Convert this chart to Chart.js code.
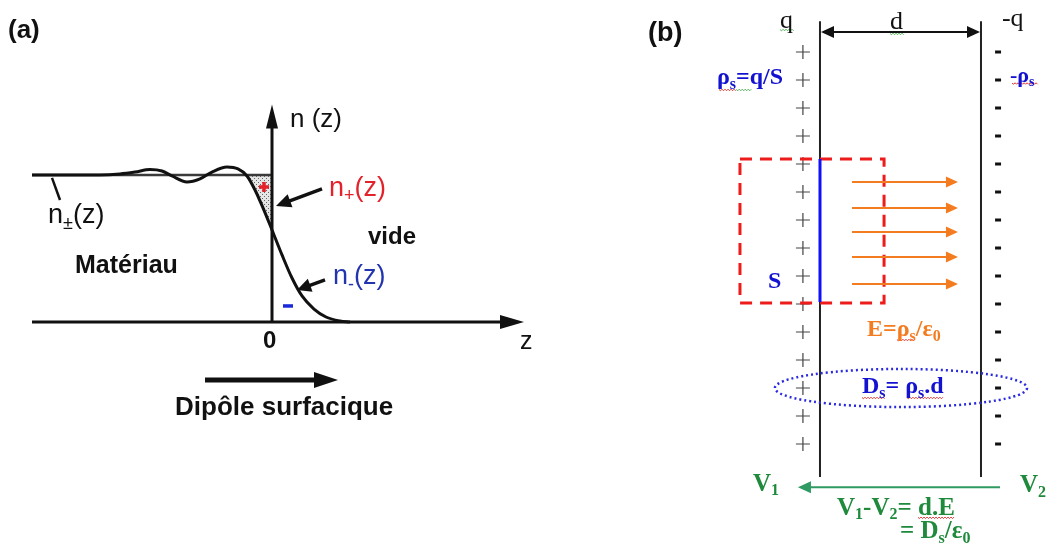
<!DOCTYPE html>
<html><head><meta charset="utf-8">
<script src="https://cdn.jsdelivr.net/npm/chart.js@4/dist/chart.umd.min.js"></script>
<style>html,body{margin:0;padding:0;background:#fff;}#wrap{width:1047px;height:544px;}</style>
</head><body><div id="wrap"><canvas id="c" width="1047" height="544"></canvas></div>
<script>
// ---------- Panel (a): density profile n(z) across the surface ----------
const curveZ = [-2.40,-1.72,-1.52,-1.37,-1.22,-1.10,-1.00,-0.85,-0.72,-0.60,-0.45,-0.34,-0.25,-0.17,-0.09,0.00,0.10,0.20,0.30,0.42,0.54,0.68,0.78];
const curveN = [1.000,1.000,1.007,1.020,1.037,1.027,0.993,0.952,0.973,1.020,1.054,1.041,0.993,0.898,0.776,0.626,0.456,0.299,0.177,0.088,0.034,0.007,0.000];
const bulkZ = [-2.40, 0.00];
const bulkN = 1;
const zAxisRange = [-2.40, 2.52];
const nAxisRange = [0, 1.48];
const excessZ = [-0.25, 0.00];          // shaded n+ excess zone
const dipoleZ = [-0.67, 0.66];
const dipoleN = -0.395;
// ---------- Panel (b): parallel plate model ----------
const plateU = [0, 1];                  // plate positions (in units of d)
const plateV = [-1.10, 15.18];
const chargeV = [0,1,2,3,4,5,6,7,8,9,10,11,12,13,14];   // index of each surface charge
const plusU = -0.106, minusU = 1.106;
const gaussU = [-0.497, 0.398], gaussV = [3.82, 8.96];
const fieldV = [4.64, 5.57, 6.43, 7.32, 8.29];
const fieldU = [0.199, 0.857];
const ellipseC = [0.503, 12.0], ellipseR = [0.783, 0.68];
const potentialU = [1.118, -0.137], potentialV = 15.54;
const dArrowV = -0.714;
// spell-check underlines seen in the source image: [u0, u1, v, colour]
const squiggles = [
  [-0.248, -0.155, -0.80, '#4caf50'],
  [0.435, 0.528, -0.66, '#4caf50'],
  [-0.627, -0.52, 1.34, '#e03030'],
  [-0.52, -0.42, 1.34, '#4caf50'],
  [1.193, 1.354, 1.11, '#e03030'],
  [0.478, 0.590, 10.27, '#e03030'],
  [0.261, 0.404, 12.34, '#e03030'],
  [0.540, 0.764, 12.34, '#e03030'],
  [0.609, 0.839, 16.62, '#e03030']
];

const SANS = '"Liberation Sans", Arial, sans-serif';
const SERIF = '"Liberation Serif", "Times New Roman", serif';
const RED = '#e3222b', BLUE_A = '#2234b0', BLUE = '#1212d0', ORANGE = '#f47c20', GREEN = '#1f8a3c', GREEN_ARROW = '#2f9a62';

const labelsA = [
  {p:[['(a)']], z:-2.64, n:1.98, font:'bold 26px '+SANS, c:'#111'},
  {p:[['n (z)']], z:0.18, n:1.374, font:'26px '+SANS, c:'#111'},
  {p:[['n'],['+','s'],['(z)']], z:0.57, n:0.905, font:'27px '+SANS, c:RED},
  {p:[['vide']], z:0.96, n:0.578, font:'bold 24px '+SANS, c:'#111'},
  {p:[['Matériau']], z:-1.97, n:0.381, font:'bold 25px '+SANS, c:'#111'},
  {p:[['n'],['-','s'],['(z)']], z:0.61, n:0.306, font:'27px '+SANS, c:BLUE_A},
  {p:[['n'],['±','s'],['(z)']], z:-2.24, n:0.721, font:'27px '+SANS, c:'#111'},
  {p:[['0']], z:-0.09, n:-0.129, font:'bold 24px '+SANS, c:'#111'},
  {p:[['z']], z:2.48, n:-0.136, font:'25px '+SANS, c:'#111'},
  {p:[['Dipôle surfacique']], z:-0.97, n:-0.585, font:'bold 26px '+SANS, c:'#111'}
];
const labelsB = [
  {p:[['(b)']], u:-1.068, v:-0.643, font:'bold 27px '+SANS, c:'#111'},
  {p:[['q']], u:-0.248, v:-1.10, font:'26px '+SERIF, c:'#111'},
  {p:[['d']], u:0.435, v:-1.07, font:'26px '+SERIF, c:'#111'},
  {p:[['-q']], u:1.130, v:-1.18, font:'26px '+SERIF, c:'#111'},
  {p:[['ρ'],['s','s'],['=q/S']], u:-0.640, v:0.93, font:'bold 24px '+SERIF, c:BLUE},
  {p:[['-'],['ρ'],['s','s']], u:1.180, v:0.857, font:'bold 22px '+SERIF, c:BLUE},
  {p:[['S']], u:-0.323, v:8.214, font:'bold 24px '+SERIF, c:BLUE},
  {p:[['E=ρ'],['s','s'],['/ε'],['0','s']], u:0.292, v:9.93, font:'bold 24px '+SERIF, c:ORANGE},
  {p:[['D'],['s','s'],['= ρ'],['s','s'],['.d']], u:0.261, v:11.96, font:'bold 24px '+SERIF, c:BLUE},
  {p:[['V'],['1','s']], u:-0.416, v:15.43, font:'bold 25px '+SERIF, c:GREEN},
  {p:[['V'],['2','s']], u:1.242, v:15.5, font:'bold 25px '+SERIF, c:GREEN},
  {p:[['V'],['1','s'],['-V'],['2','s'],['= d.E']], u:0.106, v:16.29, font:'bold 25px '+SERIF, c:GREEN},
  {p:[['= D'],['s','s'],['/ε'],['0','s']], u:0.497, v:17.14, font:'bold 25px '+SERIF, c:GREEN}
];

function rich(ctx, parts, x, y, font, color){
  const m = font.match(/(\d+)px/); const size = +m[1];
  const subFont = font.replace(/\d+px/, Math.round(size*0.65)+'px');
  ctx.save(); ctx.fillStyle = color; ctx.textBaseline = 'middle'; ctx.textAlign = 'left';
  let cx = x;
  for (const [t, mode] of parts){
    if (mode === 's'){ ctx.font = subFont; ctx.fillText(t, cx, y + size*0.28); }
    else { ctx.font = font; ctx.fillText(t, cx, y); }
    cx += ctx.measureText(t).width;
  }
  ctx.restore();
}
function arrow(ctx, x1, y1, x2, y2, o){
  const dx = x2-x1, dy = y2-y1, L = Math.hypot(dx,dy), ux = dx/L, uy = dy/L;
  const bx = x2-ux*o.hl, by = y2-uy*o.hl;
  ctx.save(); ctx.strokeStyle = o.c; ctx.fillStyle = o.c; ctx.lineWidth = o.lw; ctx.setLineDash([]);
  let sx = x1, sy = y1;
  if (o.both){ sx = x1+ux*o.hl; sy = y1+uy*o.hl; }
  ctx.beginPath(); ctx.moveTo(sx, sy); ctx.lineTo(bx+ux*1, by+uy*1); ctx.stroke();
  const head = (tx,ty,vx,vy)=>{ const hx = tx-vx*o.hl, hy = ty-vy*o.hl;
    ctx.beginPath(); ctx.moveTo(tx,ty); ctx.lineTo(hx - vy*o.hw, hy + vx*o.hw); ctx.lineTo(hx + vy*o.hw, hy - vx*o.hw); ctx.closePath(); ctx.fill(); };
  head(x2,y2,ux,uy);
  if (o.both) head(x1,y1,-ux,-uy);
  ctx.restore();
}

const diagramPlugin = {
  id: 'diagram',
  beforeDatasetsDraw(chart){
    const ctx = chart.ctx, xa = chart.scales.xa, ya = chart.scales.ya;
    const pc = document.createElement('canvas'); pc.width = 4; pc.height = 4;
    const g = pc.getContext('2d'); g.fillStyle = '#e6e6e6'; g.fillRect(0,0,4,4);
    g.fillStyle = '#666'; g.fillRect(0,0,1,1); g.fillRect(2,2,1,1);
    ctx.save(); ctx.beginPath();
    ctx.moveTo(xa.getPixelForValue(excessZ[0]), ya.getPixelForValue(bulkN));
    ctx.lineTo(xa.getPixelForValue(excessZ[1]), ya.getPixelForValue(bulkN));
    for (let i = curveZ.length-1; i >= 0; i--){
      if (curveZ[i] <= excessZ[1] && curveZ[i] >= excessZ[0]) ctx.lineTo(xa.getPixelForValue(curveZ[i]), ya.getPixelForValue(curveN[i]));
    }
    ctx.closePath(); ctx.fillStyle = ctx.createPattern(pc, 'repeat'); ctx.fill(); ctx.restore();
  },
  afterDatasetsDraw(chart){
    const ctx = chart.ctx, s = chart.scales;
    const A = (z,n)=>[s.xa.getPixelForValue(z), s.ya.getPixelForValue(n)];
    const B = (u,v)=>[s.xb.getPixelForValue(u), s.yb.getPixelForValue(v)];
    let p, q;
    p = A(0,nAxisRange[0]); q = A(0,nAxisRange[1]);
    arrow(ctx, p[0], p[1], q[0], q[1], {lw:3, c:'#111', hl:24, hw:6});
    p = A(zAxisRange[0],0); q = A(zAxisRange[1],0);
    arrow(ctx, p[0], p[1], q[0], q[1], {lw:3, c:'#111', hl:24, hw:7});
    p = A(dipoleZ[0],dipoleN); q = A(dipoleZ[1],dipoleN);
    arrow(ctx, p[0], p[1], q[0], q[1], {lw:5, c:'#111', hl:24, hw:8});
    p = A(0.50,0.905); q = A(0.04,0.789);
    arrow(ctx, p[0], p[1], q[0], q[1], {lw:3.5, c:'#111', hl:15, hw:7});
    p = A(0.53,0.286); q = A(0.25,0.218);
    arrow(ctx, p[0], p[1], q[0], q[1], {lw:3.5, c:'#111', hl:14, hw:7});
    p = A(-2.20,0.980); q = A(-2.12,0.830);
    ctx.save(); ctx.strokeStyle = '#111'; ctx.lineWidth = 2.5; ctx.beginPath(); ctx.moveTo(p[0],p[1]); ctx.lineTo(q[0],q[1]); ctx.stroke(); ctx.restore();
    p = A(-0.08,0.918);
    ctx.save(); ctx.strokeStyle = RED; ctx.lineWidth = 3.5; ctx.beginPath();
    ctx.moveTo(p[0]-5,p[1]); ctx.lineTo(p[0]+5,p[1]); ctx.moveTo(p[0],p[1]-5); ctx.lineTo(p[0],p[1]+5); ctx.stroke();
    p = A(0.16,0.109); ctx.strokeStyle = '#1a2ad8'; ctx.lineWidth = 3.5; ctx.beginPath(); ctx.moveTo(p[0]-5,p[1]); ctx.lineTo(p[0]+5,p[1]); ctx.stroke(); ctx.restore();
    for (const L of labelsA){ p = A(L.z, L.n); rich(ctx, L.p, p[0], p[1], L.font, L.c); }
    // ---- panel (b) ----
    ctx.save(); ctx.strokeStyle = '#222'; ctx.lineWidth = 2;
    for (const u of plateU){ p = B(u, plateV[0]); q = B(u, plateV[1]); ctx.beginPath(); ctx.moveTo(p[0],p[1]); ctx.lineTo(q[0],q[1]); ctx.stroke(); }
    ctx.restore();
    p = B(plateU[0], dArrowV); q = B(plateU[1], dArrowV);
    arrow(ctx, p[0]+1, p[1], q[0]-1, q[1], {lw:2, c:'#111', hl:13, hw:6, both:true});
    p = B(gaussU[0], gaussV[0]); q = B(gaussU[1], gaussV[1]);
    ctx.save(); ctx.strokeStyle = '#ee1b1b'; ctx.lineWidth = 3; ctx.setLineDash([12,8]);
    ctx.strokeRect(p[0], p[1], q[0]-p[0], q[1]-p[1]); ctx.restore();
    p = B(plateU[0], gaussV[0]); q = B(plateU[0], gaussV[1]-0.03);
    ctx.save(); ctx.strokeStyle = '#1010ff'; ctx.lineWidth = 3; ctx.beginPath(); ctx.moveTo(p[0],p[1]); ctx.lineTo(q[0],q[1]); ctx.stroke(); ctx.restore();
    for (const v of fieldV){ p = B(fieldU[0], v); q = B(fieldU[1], v);
      arrow(ctx, p[0], p[1], q[0], q[1], {lw:2, c:ORANGE, hl:12, hw:5.5}); }
    p = B(ellipseC[0], ellipseC[1]);
    const rx = s.xb.getPixelForValue(ellipseC[0]+ellipseR[0]) - p[0];
    const ry = s.yb.getPixelForValue(ellipseC[1]+ellipseR[1]) - p[1];
    ctx.save(); ctx.strokeStyle = '#2a2ae0'; ctx.lineWidth = 2.5; ctx.setLineDash([2,3]);
    ctx.beginPath(); ctx.ellipse(p[0], p[1], Math.abs(rx), Math.abs(ry), 0, 0, Math.PI*2); ctx.stroke(); ctx.restore();
    p = B(potentialU[0], potentialV); q = B(potentialU[1], potentialV);
    arrow(ctx, p[0], p[1], q[0], q[1], {lw:2, c:GREEN_ARROW, hl:13, hw:6});
    // wavy underlines
    ctx.save(); ctx.lineWidth = 1;
    for (const [u0,u1,v,col] of squiggles){
      p = B(u0, v); q = B(u1, v);
      ctx.strokeStyle = col; ctx.beginPath(); ctx.moveTo(p[0], p[1]);
      let k = 0; for (let x = p[0]+1.5; x <= q[0]; x += 1.5){ k++; ctx.lineTo(x, p[1] + (k%2 ? 1.2 : -0.3)); }
      ctx.stroke();
    }
    ctx.restore();
    for (const L of labelsB){ p = B(L.u, L.v); rich(ctx, L.p, p[0], p[1], L.font, L.c); }
  }
};

new Chart(document.getElementById('c'), {
  type: 'scatter',
  data: { datasets: [
    { label:'n(z)', xAxisID:'xa', yAxisID:'ya', data: curveZ.map((z,i)=>({x:z, y:curveN[i]})),
      showLine:true, borderColor:'#111', borderWidth:3, pointRadius:0, cubicInterpolationMode:'monotone' },
    { label:'bulk', xAxisID:'xa', yAxisID:'ya', data: bulkZ.map(z=>({x:z, y:bulkN})),
      showLine:true, borderColor:'#3a3a3a', borderWidth:2.5, pointRadius:0 },
    { label:'+', xAxisID:'xb', yAxisID:'yb', data: chargeV.map(v=>({x:plusU, y:v})),
      pointStyle:'cross', pointRadius:7, borderColor:'#444', borderWidth:1.2, backgroundColor:'#444' },
    { label:'-', xAxisID:'xb', yAxisID:'yb', data: chargeV.map(v=>({x:minusU, y:v})),
      pointStyle:'line', pointRadius:3, borderColor:'#111', borderWidth:3, backgroundColor:'#111' }
  ]},
  options: {
    responsive:false, animation:false, events:[],
    layout:{padding:0, autoPadding:false},
    plugins:{legend:{display:false}, tooltip:{enabled:false}},
    scales:{
      xa:{type:'linear', position:'bottom', display:false, min:-2.72, max:7.75},
      ya:{type:'linear', position:'left', display:false, min:-1.510, max:2.190},
      xb:{type:'linear', position:'bottom', display:false, min:-5.093, max:1.410},
      yb:{type:'linear', position:'left', display:false, min:-1.857, max:17.571, reverse:true}
    }
  },
  plugins:[diagramPlugin]
});
</script></body></html>
